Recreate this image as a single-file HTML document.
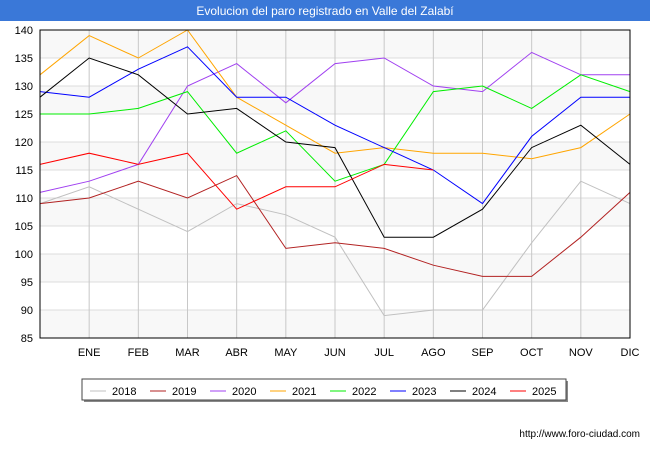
<!DOCTYPE html>
<html><head><meta charset="utf-8"><style>
body{margin:0;width:650px;height:450px;background:#fff;font-family:"Liberation Sans",sans-serif;overflow:hidden}
</style></head><body>
<svg width="650" height="450" xmlns="http://www.w3.org/2000/svg">
<rect x="0" y="0" width="650" height="21" fill="#3a78d8"/>
<text x="325" y="15" text-anchor="middle" font-size="12" fill="#fff">Evolucion del paro registrado en Valle del Zalabí</text>
<g id="grid"></g>
<g id="series"></g>
<rect x="40" y="30" width="590" height="308" fill="none" stroke="#000" stroke-width="1"/>
<g id="legend"></g>
<text x="640" y="437" text-anchor="end" font-size="10" fill="#000">http://www.foro-ciudad.com</text>
</svg>
<script>
const months=["","ENE","FEB","MAR","ABR","MAY","JUN","JUL","AGO","SEP","OCT","NOV","DIC"];
const yTicks=[85,90,95,100,105,110,115,120,125,130,135,140];
const years=["2018","2019","2020","2021","2022","2023","2024","2025"];
const colors=["#c0c0c0","#b22222","#a040f0","#ffa500","#00ee00","#0000ff","#000000","#ff0000"];
const s2018=[109,112,108,104,109,107,103,89,90,90,102,113,109];
const s2019=[109,110,113,110,114,101,102,101,98,96,96,103,111];
const s2020=[111,113,116,130,134,127,134,135,130,129,136,132,132];
const s2021=[132,139,135,140,128,123,118,119,118,118,117,119,125];
const s2022=[125,125,126,129,118,122,113,116,129,130,126,132,129];
const s2023=[129,128,133,137,128,128,123,119,115,109,121,128,128];
const s2024=[128,135,132,125,126,120,119,103,103,108,119,123,116];
const s2025=[116,118,116,118,108,112,112,116,115];
const series=[s2018,s2019,s2020,s2021,s2022,s2023,s2024,s2025];
const NS="http://www.w3.org/2000/svg";
const X=i=>40+i*(590/12), Y=v=>338-(v-85)*(308/55);
function mk(t,a,p){const e=document.createElementNS(NS,t);for(const k in a)e.setAttribute(k,a[k]);p.appendChild(e);return e;}
const g=document.getElementById('grid');
for(let i=0;i<yTicks.length-1;i++){if(i%2==0){const r=mk('rect',{x:40,y:Y(yTicks[i+1]),width:590,height:Y(yTicks[i])-Y(yTicks[i+1]),fill:'#f8f8f8'},g);

}}
yTicks.forEach(v=>{const l=mk('line',{x1:40,x2:630,y1:Y(v),y2:Y(v),stroke:'#dcdcdc'},g);


const t=mk('text',{x:33,y:Y(v)+4,'text-anchor':'end','font-size':11},g);t.textContent=v;

});
months.forEach((m,i)=>{if(i>0){const l=mk('line',{x1:X(i),x2:X(i),y1:30,y2:338,stroke:'#c8c8c8'},g);


const t=mk('text',{x:X(i),y:356,'text-anchor':'middle','font-size':11},g);t.textContent=m;

}});
const sg=document.getElementById('series');
series.forEach((s,k)=>{const p=mk('polyline',{points:s.map((v,i)=>X(i)+','+Y(v)).join(' '),fill:'none',stroke:colors[k],'stroke-width':1},sg);

});
const lg=document.getElementById('legend');
mk('rect',{x:84,y:381,width:484,height:21,fill:'#888'},lg);
const box=mk('rect',{x:82,y:379,width:484,height:21,fill:'#fff',stroke:'#444'},lg);


years.forEach((y,k)=>{const x0=90+k*60;
const l=mk('line',{x1:x0,x2:x0+16,y1:391,y2:391,stroke:colors[k],'stroke-width':1},lg);


const t=mk('text',{x:x0+22,y:395,'font-size':11},lg);t.textContent=y;

});
</script>
</body></html>
